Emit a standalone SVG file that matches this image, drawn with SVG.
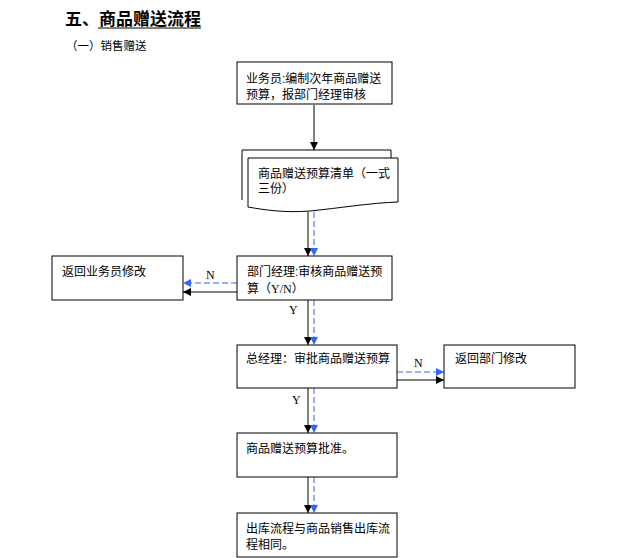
<svg xmlns="http://www.w3.org/2000/svg" width="640" height="558" viewBox="0 0 640 558">
<style>
.box{fill:#fff;stroke:#000;stroke-width:1}
.t{font-family:"Liberation Sans","Noto Sans CJK SC",sans-serif;font-size:12px;fill:#000}
.lbl{font-family:"Liberation Serif","Noto Sans CJK SC",serif;font-size:12px;fill:#000}
.k{stroke:#000;stroke-width:1;fill:none}
.b{stroke:#3366ff;stroke-width:1;fill:none;stroke-dasharray:6,3}
</style>
<defs>
<marker id="ak" viewBox="0 0 8 8" refX="8" refY="4" markerWidth="8" markerHeight="8" markerUnits="userSpaceOnUse" orient="auto"><path d="M0,0 L8,4 L0,8 z" fill="#000"/></marker>
<marker id="ab" viewBox="0 0 8 8" refX="8" refY="4" markerWidth="8" markerHeight="8" markerUnits="userSpaceOnUse" orient="auto"><path d="M0,0 L8,4 L0,8 z" fill="#3366ff"/></marker>
</defs>
<rect width="640" height="558" fill="#fff"/>
<g id="title">
<text x="65" y="25" style="font-family:'Liberation Serif','Noto Sans CJK SC',serif;font-size:17px;font-weight:bold">五、商品赠送流程</text>
<line x1="98" y1="28" x2="201" y2="28" stroke="#000" stroke-width="1"/>
<text x="66" y="50" class="t" style="font-size:11.5px">（一）销售赠送</text>
</g>
<g id="connectors">
<line class="k" x1="314" y1="105" x2="314" y2="150" marker-end="url(#ak)"/>
<line class="k" x1="308" y1="212" x2="308" y2="256" marker-end="url(#ak)"/>
<line class="b" x1="314" y1="212" x2="314" y2="256" marker-end="url(#ab)"/>
<line class="b" x1="237" y1="283" x2="183" y2="283" marker-end="url(#ab)"/>
<line class="k" x1="237" y1="292" x2="183" y2="292" marker-end="url(#ak)"/>
<text class="lbl" x="206" y="279">N</text>
<line class="k" x1="308" y1="300" x2="308" y2="345" marker-end="url(#ak)"/>
<line class="b" x1="314" y1="300" x2="314" y2="345" marker-end="url(#ab)"/>
<text class="lbl" x="289" y="314">Y</text>
<line class="b" x1="397" y1="372" x2="444" y2="372" marker-end="url(#ab)"/>
<line class="k" x1="397" y1="380" x2="444" y2="380" marker-end="url(#ak)"/>
<text class="lbl" x="414" y="367">N</text>
<line class="k" x1="308" y1="388" x2="308" y2="433" marker-end="url(#ak)"/>
<line class="b" x1="314" y1="388" x2="314" y2="433" marker-end="url(#ab)"/>
<text class="lbl" x="292" y="404">Y</text>
<line class="k" x1="308" y1="477" x2="308" y2="513" marker-end="url(#ak)"/>
<line class="b" x1="314" y1="477" x2="314" y2="513" marker-end="url(#ab)"/>
</g>
<g id="n1">
<rect class="box" x="237" y="62" width="155" height="42"/>
<text class="t" x="246" y="83">业务员:编制次年商品赠送</text>
<text class="t" x="246" y="99">预算，报部门经理审核</text>
</g>
<g id="n2">
<path class="box" d="M242,200 L242,150 L391,150 L391,158"/>
<path class="box" d="M248,158 L398,158 L398,202 C370,203 340,208 310,211 C285,213 265,210 248,207 Z"/>
<text class="t" x="258" y="178">商品赠送预算清单（一式</text>
<text class="t" x="258" y="193">三份）</text>
</g>
<g id="n3">
<rect class="box" x="237" y="256" width="155" height="44"/>
<text class="t" x="247" y="276">部门经理:审核商品赠送预</text>
<text class="t" x="247" y="293">算（<tspan style="font-family:'Liberation Serif',serif">Y/N</tspan>）</text>
</g>
<g id="n4">
<rect class="box" x="52" y="256" width="131" height="44"/>
<text class="t" x="62" y="276">返回业务员修改</text>
</g>
<g id="n5">
<rect class="box" x="237" y="345" width="160" height="43"/>
<text class="t" x="246" y="363">总经理：审批商品赠送预算</text>
</g>
<g id="n6">
<rect class="box" x="444" y="345" width="131" height="43"/>
<text class="t" x="455" y="363">返回部门修改</text>
</g>
<g id="n7">
<rect class="box" x="237" y="433" width="160" height="44"/>
<text class="t" x="246" y="453">商品赠送预算批准。</text>
</g>
<g id="n8">
<rect class="box" x="237" y="513" width="160" height="44"/>
<text class="t" x="246" y="533">出库流程与商品销售出库流</text>
<text class="t" x="246" y="549">程相同。</text>
</g>
</svg>
